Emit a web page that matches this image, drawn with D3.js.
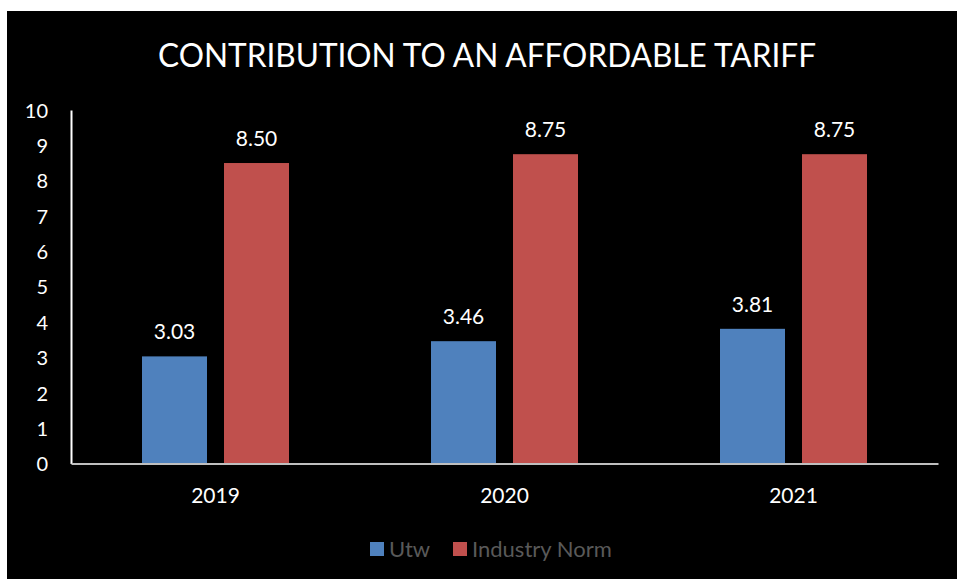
<!DOCTYPE html>
<html>
<head>
<meta charset="utf-8">
<script src="https://cdn.jsdelivr.net/npm/d3@7/dist/d3.min.js"></script>
<style>
  html, body { margin: 0; padding: 0; background: #ffffff; }
  svg { display: block; }
  text { font-family: Lato, "Open Sans", sans-serif; }
</style>
</head>
<body>
<svg id="chart" width="957" height="579"></svg>
<script>
// Chart data
const years = ["2019", "2020", "2021"];
const seriesNames = ["Utw", "Industry Norm"];
const utwValues = [3.03, 3.46, 3.81];
const normValues = [8.50, 8.75, 8.75];
const yTicks = [0, 1, 2, 3, 4, 5, 6, 7, 8, 9, 10];
const seriesColors = ["#4F81BD", "#C0504D"];
const titleText = "CONTRIBUTION TO AN AFFORDABLE TARIFF";

const W = 957, H = 579;
const svg = d3.select("#chart");

// Black chart area
svg.append("rect").attr("x", 7).attr("y", 11).attr("width", W - 7).attr("height", H - 11).attr("fill", "#000");

const plot = { left: 71, right: 938, top: 110, bottom: 463.5 };

const x0 = d3.scaleBand().domain(years).range([plot.left, plot.right]).paddingInner(0).paddingOuter(0);
const x1 = d3.scaleBand().domain(seriesNames).range([0, 147]).paddingInner(17 / 82);
const y = d3.scaleLinear().domain([0, 10]).range([plot.bottom, plot.top]);

// Title
svg.append("text")
  .attr("x", 487).attr("y", 67)
  .attr("text-anchor", "middle")
  .attr("fill", "#fff")
  .attr("font-size", 33)
  .attr("textLength", 658)
  .attr("lengthAdjust", "spacingAndGlyphs")
  .text(titleText);

// Y axis
const yAxis = svg.append("g").attr("transform", `translate(${plot.left},0)`)
  .call(d3.axisLeft(y).tickValues(yTicks).tickSize(0).tickPadding(23).tickFormat(d3.format("d")));
yAxis.select(".domain").attr("stroke", "#fff").attr("stroke-width", 2);
yAxis.selectAll("text").attr("fill", "#fff").attr("font-size", 20).attr("font-family", "Lato, sans-serif").attr("dy", "0.36em");

// Bars
const groups = years.map((yr, i) => ({ year: yr, values: [utwValues[i], normValues[i]] }));
const g = svg.append("g");
const grp = g.selectAll("g.grp").data(groups).join("g")
  .attr("class", "grp")
  .attr("transform", d => `translate(${x0(d.year) + (x0.bandwidth() - 147) / 2},0)`);

grp.selectAll("rect").data(d => d.values.map((v, k) => ({ name: seriesNames[k], v, k })))
  .join("rect")
  .attr("x", d => x1(d.name))
  .attr("width", x1.bandwidth())
  .attr("y", d => y(d.v))
  .attr("height", d => y(0) - y(d.v))
  .attr("fill", d => seriesColors[d.k]);

grp.selectAll("text.lbl").data(d => d.values.map((v, k) => ({ name: seriesNames[k], v, k })))
  .join("text")
  .attr("class", "lbl")
  .attr("x", d => x1(d.name) + x1.bandwidth() / 2)
  .attr("y", d => y(d.v) - 17)
  .attr("text-anchor", "middle")
  .attr("fill", "#fff")
  .attr("font-size", 21)
  .text(d => d3.format(".2f")(d.v));

// X axis
const xAxis = svg.append("g").attr("transform", `translate(0,${plot.bottom})`)
  .call(d3.axisBottom(x0).tickSize(0).tickPadding(25));
xAxis.select(".domain").attr("stroke", "#bfbfbf").attr("stroke-width", 2);
xAxis.selectAll("text").attr("fill", "#fff").attr("font-size", 21).attr("font-family", "Lato, sans-serif");

// Legend
const legendItems = [
  { name: seriesNames[0], color: seriesColors[0], x: 370 },
  { name: seriesNames[1], color: seriesColors[1], x: 453 }
];
const lg = svg.append("g").selectAll("g").data(legendItems).join("g")
  .attr("transform", d => `translate(${d.x},542)`);
lg.append("rect").attr("width", 14).attr("height", 14).attr("fill", d => d.color);
lg.append("text").attr("x", 19).attr("y", 14.5).attr("fill", "#595959").attr("font-size", 22).text(d => d.name);
</script>
</body>
</html>
